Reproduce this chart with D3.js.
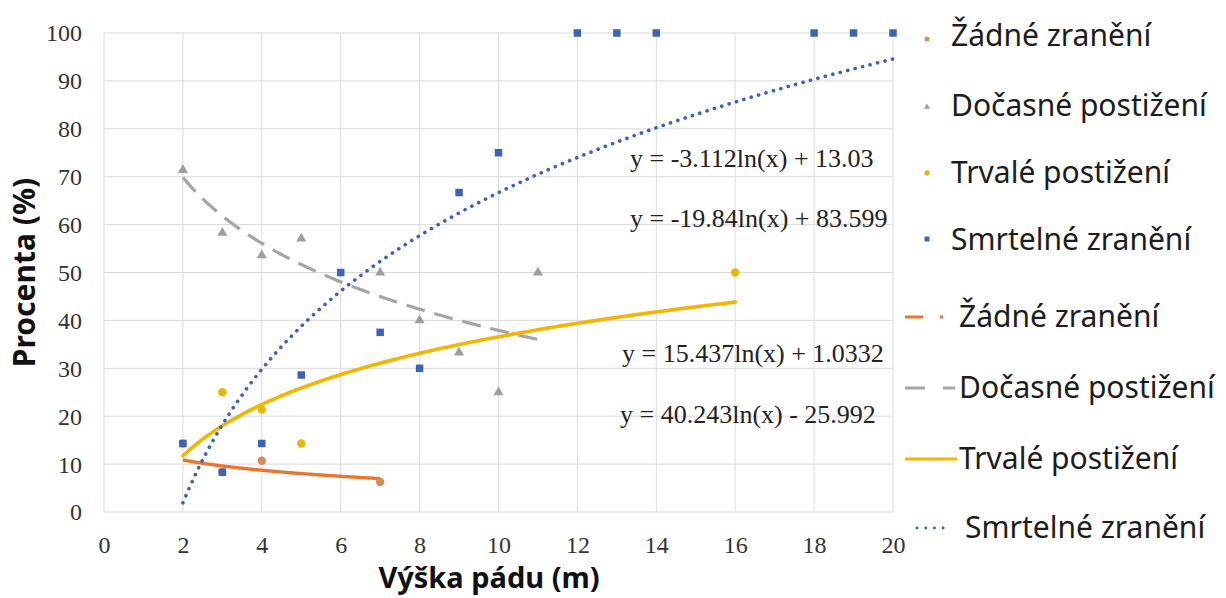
<!DOCTYPE html>
<html>
<head>
<meta charset="utf-8">
<script src="https://cdn.jsdelivr.net/npm/d3@7/dist/d3.min.js"></script>
<style>
  html, body { margin: 0; padding: 0; background: #fff; }
  svg { display: block; }
</style>
</head>
<body>
<svg id="chart" width="1226" height="598"></svg>
<script>
// Fall height (m) vs. share of outcomes (%), with logarithmic trendlines
const seriesNames = ["Žádné zranění", "Dočasné postižení", "Trvalé postižení", "Smrtelné zranění"];

const zadneX = [3, 4, 7];
const zadneY = [8.33, 10.71, 6.25];

const docasneX = [2, 3, 4, 5, 7, 8, 9, 10, 11];
const docasneY = [71.4, 58.3, 53.6, 57.1, 50, 40, 33.3, 25, 50];

const trvaleX = [2, 3, 4, 5, 16];
const trvaleY = [14.3, 25, 21.4, 14.3, 50];

const smrtelneX = [2, 3, 4, 5, 6, 7, 8, 9, 10, 12, 13, 14, 18, 19, 20];
const smrtelneY = [14.3, 8.3, 14.3, 28.6, 50, 37.5, 30, 66.7, 75, 100, 100, 100, 100, 100, 100];

// y = a·ln(x) + b for each series
const trendA = [-3.112, -19.84, 15.437, 40.243];
const trendB = [13.03, 83.599, 1.0332, -25.992];
const trendFrom = [2, 2, 2, 2];
const trendTo = [7, 11, 16, 20];
const trendLabels = [
  "y = -3.112ln(x) + 13.03",
  "y = -19.84ln(x) + 83.599",
  "y = 15.437ln(x) + 1.0332",
  "y = 40.243ln(x) - 25.992"
];

const xTicks = [0, 2, 4, 6, 8, 10, 12, 14, 16, 18, 20];
const yTicks = [0, 10, 20, 30, 40, 50, 60, 70, 80, 90, 100];

// ---- layout & style ----
const colors = ["#E8762F", "#A5A5A5", "#F2B600", "#3A62B0"];
const markerColors = ["#D98A5C", "#9E9E9E", "#E6B80C", "#3D64B2"];
const svg = d3.select("#chart");

const x = d3.scaleLinear().domain([0, 20]).range([104, 893]);
const y = d3.scaleLinear().domain([0, 100]).range([512, 33]);

const serif = "'Liberation Serif', 'Times New Roman', serif";
const sans = "'Noto Sans', 'Open Sans', sans-serif";

// gridlines
const grid = svg.append("g");
grid.selectAll("line.h").data(yTicks).join("line")
  .attr("x1", x(0)).attr("x2", x(20))
  .attr("y1", d => y(d)).attr("y2", d => y(d))
  .attr("stroke", "#D9D9D9").attr("stroke-width", 1);
grid.selectAll("line.v").data(xTicks).join("line")
  .attr("y1", y(0)).attr("y2", y(100))
  .attr("x1", d => x(d)).attr("x2", d => x(d))
  .attr("stroke", "#DCDCDC").attr("stroke-width", 1);

// axes (labels only, via d3 axis generators)
const yAxis = svg.append("g").attr("transform", `translate(${x(0) - 22},0)`)
  .call(d3.axisLeft(y).tickValues(yTicks).tickSize(0).tickPadding(0).tickFormat(d3.format("d")));
yAxis.select(".domain").remove();
yAxis.selectAll("text").attr("font-family", serif).attr("font-size", 24).attr("fill", "#333")
  .attr("dy", "0.33em");

const xAxis = svg.append("g").attr("transform", `translate(0,${y(0)})`)
  .call(d3.axisBottom(x).tickValues(xTicks).tickSize(0).tickPadding(0).tickFormat(d3.format("d")));
xAxis.select(".domain").remove();
xAxis.selectAll("text").attr("font-family", serif).attr("font-size", 24).attr("fill", "#333")
  .attr("dy", null).attr("y", 41);

// axis titles
svg.append("text")
  .attr("transform", `translate(35,${(y(0) + y(100)) / 2}) rotate(-90)`)
  .attr("text-anchor", "middle")
  .attr("font-family", sans).attr("font-weight", "bold").attr("font-size", 30)
  .attr("fill", "#111").text("Procenta (%)");
svg.append("text")
  .attr("x", 489).attr("y", 588)
  .attr("text-anchor", "middle")
  .attr("font-family", sans).attr("font-weight", "bold").attr("font-size", 29)
  .attr("fill", "#111").text("Výška pádu (m)");

// trendlines
const dashes = [null, "19 10", null, "0.1 7.6"];
const caps = ["butt", "butt", "round", "round"];
const widths = [3.4, 3.2, 3.6, 3.6];
const line = d3.line().x(d => x(d[0])).y(d => y(d[1])).curve(d3.curveLinear);
trendA.forEach((a, i) => {
  const xsTrend = d3.range(0, 201).map(k => trendFrom[i] + (trendTo[i] - trendFrom[i]) * k / 200);
  const pts = xsTrend.map(v => [v, a * Math.log(v) + trendB[i]]);
  svg.append("path")
    .attr("d", line(pts))
    .attr("fill", "none")
    .attr("stroke", colors[i])
    .attr("stroke-width", widths[i])
    .attr("stroke-linecap", caps[i])
    .attr("stroke-dasharray", dashes[i]);
});

// markers
const sym = {
  circle: d3.symbol().type(d3.symbolCircle).size(56),
  triangle: d3.symbol().type(d3.symbolTriangle).size(44),
  square: d3.symbol().type(d3.symbolSquare).size(56)
};
function drawMarkers(xs, ys, gen, color) {
  svg.append("g").selectAll("path").data(xs.map((v, k) => [v, ys[k]])).join("path")
    .attr("transform", d => `translate(${x(d[0])},${y(d[1])})`)
    .attr("d", gen)
    .attr("fill", color);
}
drawMarkers(zadneX, zadneY, sym.circle, markerColors[0]);
drawMarkers(docasneX, docasneY, sym.triangle, markerColors[1]);
drawMarkers(trvaleX, trvaleY, sym.circle, markerColors[2]);
drawMarkers(smrtelneX, smrtelneY, sym.square, markerColors[3]);

// trendline equations
const eqPos = [[630, 167], [630, 227], [622, 362], [620, 423]];
trendLabels.forEach((t, i) => {
  svg.append("text")
    .attr("x", eqPos[i][0]).attr("y", eqPos[i][1])
    .attr("font-family", serif).attr("font-size", 26).attr("fill", "#222")
    .text(t);
});

// legend: markers
const legMarkerY = [39, 107, 173, 239];
const legTextY1 = [46, 116, 183, 250];
const legSym = [
  d3.symbol().type(d3.symbolCircle).size(20),
  d3.symbol().type(d3.symbolTriangle).size(16),
  d3.symbol().type(d3.symbolCircle).size(22),
  d3.symbol().type(d3.symbolSquare).size(24)
];
seriesNames.forEach((name, i) => {
  svg.append("path").attr("transform", `translate(927,${legMarkerY[i]})`)
    .attr("d", legSym[i]).attr("fill", markerColors[i]);
  svg.append("text").attr("x", 951).attr("y", legTextY1[i])
    .attr("font-family", sans).attr("font-size", 30).attr("fill", "#1c1c1c").text(name);
});

// legend: trendline samples
const legTextY2 = [327, 398, 469, 538];
const legLineDash = ["18 17 3 30", "20 18", null, "0.1 8.6"];
seriesNames.forEach((name, i) => {
  const ly = legTextY2[i] - 10;
  const x1 = i === 3 ? 917 : 905;
  const x2 = i === 3 ? 944 : (i === 1 ? 955 : 957);
  svg.append("line").attr("x1", x1).attr("x2", x2).attr("y1", ly).attr("y2", ly)
    .attr("stroke", colors[i]).attr("stroke-width", i === 3 ? 2.8 : 3)
    .attr("stroke-linecap", i === 3 ? "round" : "butt")
    .attr("stroke-dasharray", legLineDash[i]);
  svg.append("text").attr("x", i === 3 ? 965 : 959).attr("y", legTextY2[i])
    .attr("font-family", sans).attr("font-size", 30).attr("fill", "#1c1c1c").text(name);
});
</script>
</body>
</html>
